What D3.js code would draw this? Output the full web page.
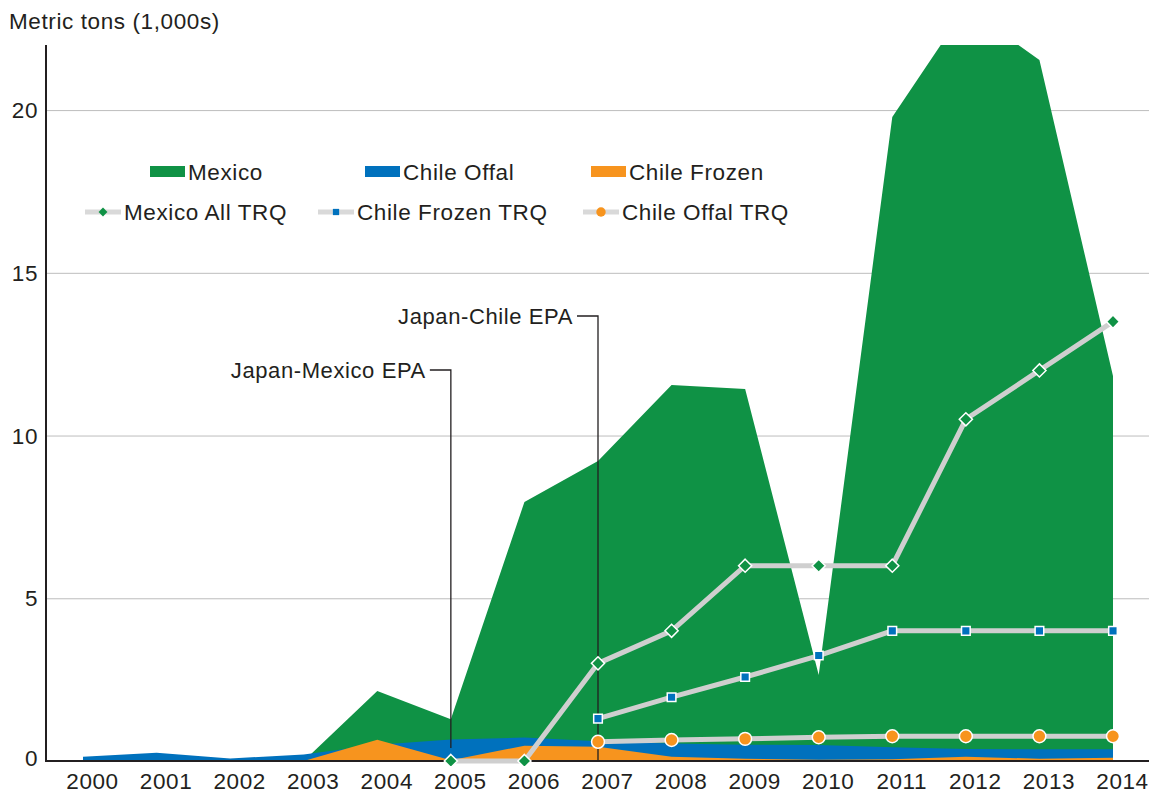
<!DOCTYPE html>
<html>
<head>
<meta charset="utf-8">
<script src="https://cdn.jsdelivr.net/npm/d3@7/dist/d3.min.js"></script>
<style>
  body { margin: 0; background: #fff; }
  text { font-family: "Liberation Sans", Arial, Helvetica, sans-serif; fill: #231f20; letter-spacing: 0.6px; }
</style>
</head>
<body>
<svg id="graph"></svg>
<script>
// data (1,000 metric tons)
const years = [2000, 2001, 2002, 2003, 2004, 2005, 2006, 2007, 2008, 2009, 2010, 2011, 2012, 2013, 2014];
const mexico = [0, 0, 0, 0, 2.15, 1.28, 7.96, 9.22, 11.55, 11.43, 2.64, 19.79, 23.15, 21.54, 11.83];
const chileOffal = [0.13, 0.25, 0.08, 0.2, 0.5, 0.66, 0.72, 0.61, 0.54, 0.5, 0.49, 0.42, 0.37, 0.36, 0.36];
const chileFrozen = [0, 0, 0, 0, 0.65, 0.02, 0.47, 0.44, 0.13, 0.07, 0.04, 0.05, 0.13, 0.07, 0.1];

// TRQ series (null = no quota that year)
const mexicoTRQ = [null, null, null, null, null, 0, 0, 3, 4, 6, 6, 6, 10.5, 12, 13.5];
const chileFrozenTRQ = [null, null, null, null, null, null, null, 1.3, 1.96, 2.58, 3.24, 4, 4, 4, 4];
const chileOffalTRQ = [null, null, null, null, null, null, null, 0.59, 0.645, 0.68, 0.73, 0.76, 0.76, 0.76, 0.76];

const yTicks = [0, 5, 10, 15, 20];

const events = [
  {label: 'Japan-Mexico EPA', year: 2005, labelY: 370, bottom: 748},
  {label: 'Japan-Chile EPA', year: 2007, labelY: 316, bottom: 761}
];

const green = '#0f9245';
const blue = '#0071bd';
const orange = '#f7941e';
const grey = '#cfcfcf';
const ink = '#231f20';

//set dimensions
const width = 1149;
const height = 794;
const plot = {left: 46, right: 1149, top: 45, bottom: 761};

const graph = d3.select('#graph')
  .attr('width', width)
  .attr('height', height);

//set scales
const x_scale = d3.scaleLinear().domain([2000, 2014]).range([83, 1113]);
const y_scale = d3.scaleLinear().domain([0, 22]).range([plot.bottom, plot.top]);

graph.append('defs').append('clipPath').attr('id', 'clip')
  .append('rect')
  .attr('x', plot.left).attr('y', plot.top)
  .attr('width', plot.right - plot.left).attr('height', plot.bottom - plot.top);

// gridlines + y labels
const y_axis = d3.axisLeft(y_scale)
  .tickValues(yTicks)
  .tickSize(-(plot.right - plot.left))
  .tickPadding(8);

const gy = graph.append('g')
  .attr('transform', `translate(${plot.left},0)`)
  .call(y_axis);
gy.select('.domain').remove();
gy.selectAll('line').attr('stroke', '#bdbdbd').attr('stroke-width', 1);
gy.selectAll('text').style('font-size', '22.5px').attr('dy', '0.34em');
gy.selectAll('.tick').filter(d => d === 0).select('line').remove();
gy.selectAll('.tick').filter(d => d === 0).select('text').attr('y', -3);

// x labels
const x_axis = d3.axisBottom(x_scale)
  .tickValues(years)
  .tickFormat(d3.format('d'))
  .tickSize(0)
  .tickPadding(12);

const gx = graph.append('g')
  .attr('transform', `translate(0,${plot.bottom})`)
  .call(x_axis);
gx.select('.domain').remove();
gx.selectAll('text').style('font-size', '22.5px').attr('x', 9);

// areas
const areas = graph.append('g').attr('clip-path', 'url(#clip)');
const makeArea = vals => d3.area()
  .x((d, i) => x_scale(years[i]))
  .y0(y_scale(0))
  .y1(d => y_scale(d))(vals);

[[mexico, green], [chileOffal, blue], [chileFrozen, orange]].forEach(([vals, col]) => {
  areas.append('path').attr('d', makeArea(vals)).attr('fill', col);
});

// axis lines
graph.append('line')
  .attr('x1', plot.left).attr('x2', plot.left)
  .attr('y1', plot.top).attr('y2', plot.bottom)
  .attr('stroke', ink).attr('stroke-width', 2);
graph.append('line')
  .attr('x1', plot.left - 1).attr('x2', plot.right)
  .attr('y1', plot.bottom).attr('y2', plot.bottom)
  .attr('stroke', ink).attr('stroke-width', 2);

// TRQ lines
const line = d3.line()
  .defined(d => d != null)
  .x((d, i) => x_scale(years[i]))
  .y(d => y_scale(d));

const trq = [
  {vals: mexicoTRQ, col: green, shape: d3.symbolDiamond2, size: 110},
  {vals: chileFrozenTRQ, col: blue, shape: d3.symbolSquare2, size: 95},
  {vals: chileOffalTRQ, col: orange, shape: d3.symbolCircle, size: 130}
];

trq.forEach(s => {
  graph.append('path')
    .attr('d', line(s.vals))
    .attr('fill', 'none')
    .attr('stroke', grey)
    .attr('stroke-width', 5);
});

// annotations
events.forEach(e => {
  const xe = x_scale(e.year);
  graph.append('path')
    .attr('d', `M${xe - 21},${e.labelY}H${xe}V${e.bottom}`)
    .attr('fill', 'none')
    .attr('stroke', ink)
    .attr('stroke-width', 1.3);
  graph.append('text')
    .attr('x', xe - 25).attr('y', e.labelY + 8)
    .attr('text-anchor', 'end')
    .style('font-size', '22px')
    .text(e.label);
});

trq.forEach(s => {
  const pts = s.vals.map((v, i) => ({v, year: years[i]})).filter(p => p.v != null);
  graph.selectAll(null)
    .data(pts)
    .enter()
    .append('path')
    .attr('transform', p => `translate(${x_scale(p.year)},${y_scale(p.v)})`)
    .attr('d', d3.symbol().type(s.shape).size(s.size))
    .attr('fill', s.col)
    .attr('stroke', '#fff')
    .attr('stroke-width', 1.5);
});

// title
graph.append('text')
  .attr('x', 9).attr('y', 29)
  .style('font-size', '22.5px')
  .text('Metric tons (1,000s)');

// legend
const legendAreas = [
  {label: 'Mexico', col: green, x: 150},
  {label: 'Chile Offal', col: blue, x: 365},
  {label: 'Chile Frozen', col: orange, x: 591}
];
const legendLines = [
  {label: 'Mexico All TRQ', col: green, shape: d3.symbolDiamond2, size: 50, x: 85},
  {label: 'Chile Frozen TRQ', col: blue, shape: d3.symbolSquare2, size: 50, x: 318},
  {label: 'Chile Offal TRQ', col: orange, shape: d3.symbolCircle, size: 70, x: 583}
];

const leg = graph.append('g');
legendAreas.forEach(l => {
  leg.append('rect').attr('x', l.x).attr('y', 166).attr('width', 35).attr('height', 11).attr('fill', l.col);
  leg.append('text').attr('x', l.x + 38).attr('y', 180).style('font-size', '22.5px').text(l.label);
});
legendLines.forEach(l => {
  leg.append('line').attr('x1', l.x).attr('x2', l.x + 36).attr('y1', 212).attr('y2', 212)
    .attr('stroke', '#d9d9d9').attr('stroke-width', 5);
  leg.append('path').attr('transform', `translate(${l.x + 18},212)`)
    .attr('d', d3.symbol().type(l.shape).size(l.size))
    .attr('fill', l.col);
  leg.append('text').attr('x', l.x + 39).attr('y', 220).style('font-size', '22.5px').text(l.label);
});
</script>
</body>
</html>
